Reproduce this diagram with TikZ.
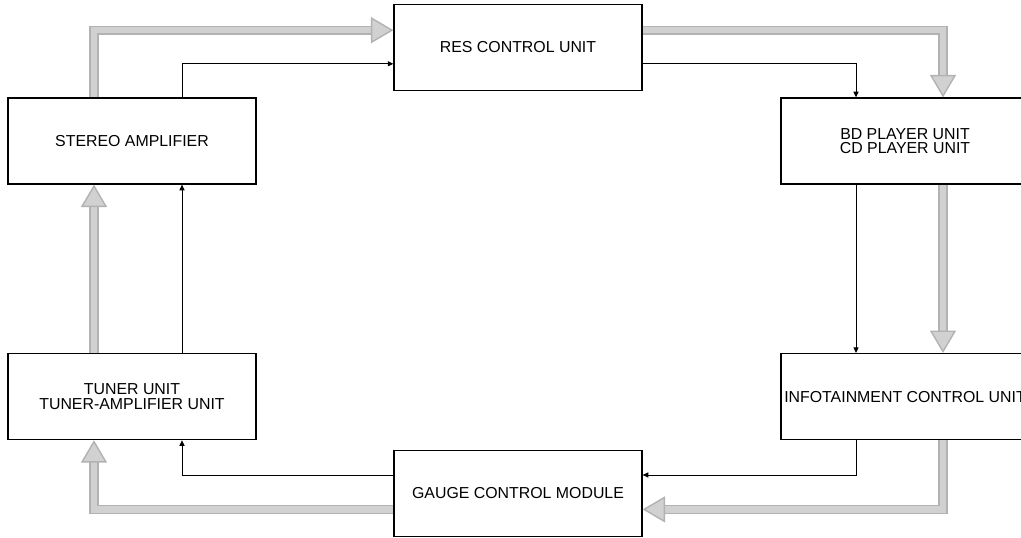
\documentclass[tikz,border=0pt]{standalone}
\usepackage{fontspec}
\setmainfont{Liberation Sans}
\usetikzlibrary{arrows.meta}
\begin{document}
\begin{tikzpicture}
% Estilos
\tikzstyle{unit} = [rectangle, draw=black, line width=0.9pt, fill=white, minimum width=6.2cm, minimum height=2.15cm, align=center, inner sep=0pt, font=\fontsize{11.3}{10.5}\selectfont]
\tikzstyle{flow} = [draw=black!30, line width=1pt, double=black!18, double distance=4.6pt, -{Triangle[width=0.65cm, length=0.56cm, fill=black!18]}]
\tikzstyle{signal} = [draw=black, line width=0.7pt, -{Triangle[width=3.6pt, length=4pt]}]

\useasboundingbox (0,0) rectangle (25.525,13.425);

% Unidades
\node[unit] (res) at (12.95,12.24) {RES CONTROL UNIT};
\node[unit] (stereo) at (3.3,9.9) {STEREO AMPLIFIER};
\node[unit] (player) at (22.625,9.9) {BD PLAYER UNIT\\CD PLAYER UNIT};
\node[unit] (tuner) at (3.3,3.51) {TUNER UNIT\\TUNER-AMPLIFIER UNIT};
\node[unit] (info) at (22.625,3.51) {INFOTAINMENT CONTROL UNIT};
\node[unit] (gauge) at (12.95,1.09) {GAUGE CONTROL MODULE};

% Flujo principal (gris)
\draw[flow] ([xshift=-0.95cm]tuner.north) -- ([xshift=-0.95cm]stereo.south);
\draw[flow] ([xshift=-0.95cm]stereo.north) |- ([yshift=0.43cm]res.west);
\draw[flow] ([yshift=0.43cm]res.east) -| ([xshift=0.95cm]player.north);
\draw[flow] ([xshift=0.95cm]player.south) -- ([xshift=0.95cm]info.north);
\draw[flow] ([xshift=0.95cm]info.south) |- ([yshift=-0.4cm]gauge.east);
\draw[flow] ([yshift=-0.4cm]gauge.west) -| ([xshift=-0.95cm]tuner.south);

% Senales (negro)
\draw[signal] ([xshift=1.25cm]tuner.north) -- ([xshift=1.25cm]stereo.south);
\draw[signal] ([xshift=1.25cm]stereo.north) |- ([yshift=-0.41cm]res.west);
\draw[signal] ([yshift=-0.41cm]res.east) -| ([xshift=-1.225cm]player.north);
\draw[signal] ([xshift=-1.225cm]player.south) -- ([xshift=-1.225cm]info.north);
\draw[signal] ([xshift=-1.225cm]info.south) |- ([yshift=0.46cm]gauge.east);
\draw[signal] ([yshift=0.46cm]gauge.west) -| ([xshift=1.25cm]tuner.south);
\end{tikzpicture}
\end{document}
